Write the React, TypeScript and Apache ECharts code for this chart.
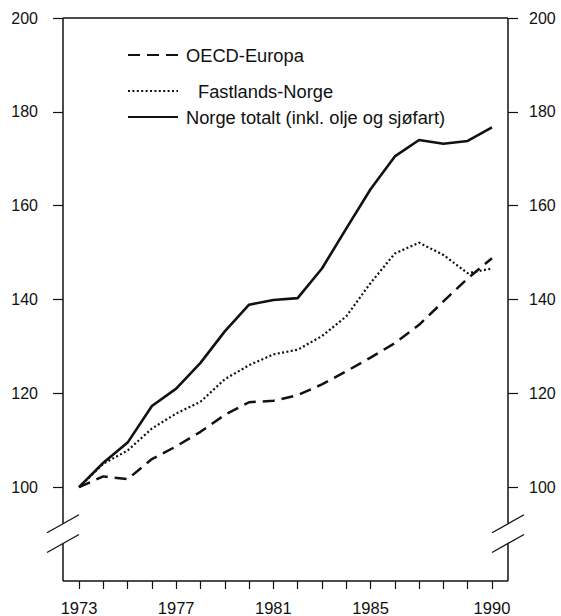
import { useEffect, useRef } from 'react';
import * as echarts from 'echarts';

const years = [1973, 1974, 1975, 1976, 1977, 1978, 1979, 1980, 1981, 1982, 1983, 1984, 1985, 1986, 1987, 1988, 1989, 1990];
const oecdEuropa = [100, 102.3, 101.7, 106, 108.7, 111.8, 115.4, 118.1, 118.4, 119.6, 121.9, 124.7, 127.6, 130.7, 134.6, 139.6, 144.5, 148.8];
const fastlandsNorge = [100, 105, 107.8, 112.5, 115.7, 118.2, 123, 126, 128.3, 129.3, 132.2, 136.4, 143.5, 149.8, 152.1, 149.5, 145.6, 146.6];
const norgeTotalt = [100, 105.2, 109.5, 117.3, 121, 126.5, 133.2, 138.9, 139.9, 140.3, 146.6, 155.1, 163.5, 170.5, 174, 173.2, 173.8, 176.7];
const yTickValues = [100, 120, 140, 160, 180, 200];
const xLabelYears = [1973, 1977, 1981, 1985, 1990];
const seriesNames = ['OECD-Europa', 'Fastlands-Norge', 'Norge totalt (inkl. olje og sjøfart)'];

const Y_MIN = 80;
const Y_MAX = 200;
const X_MIN = 1972.34;
const X_MAX = 1990.66;
const BREAK_UPPER = 92.2;
const BREAK_LOWER = 88.0;

const FONT = '"Liberation Sans", Arial, Helvetica, sans-serif';
const INK = '#111';

function pairs(vals: number[]) {
  return years.map((y, i) => [y, vals[i]]);
}

export default function App() {
  const ref = useRef<HTMLDivElement>(null);

  useEffect(() => {
    if (!ref.current) return;
    const chart = echarts.init(ref.current, null, { renderer: 'svg' });

    const legendText = { fontSize: 18.3, lineHeight: 18, color: INK, fontFamily: FONT };
    const legendBase = {
      left: 127,
      itemWidth: 50,
      itemHeight: 18,
      padding: 0,
      selectedMode: false,
      itemStyle: { opacity: 0, borderWidth: 0 },
    };

    const yAxisBase = {
      type: 'value',
      min: Y_MIN,
      max: Y_MAX,
      interval: 20,
      axisLine: { show: false },
      splitLine: { show: false },
      axisTick: { show: true, length: 10, customValues: yTickValues, lineStyle: { color: INK, width: 1.2 } },
    };

    chart.setOption({
      animation: false,
      backgroundColor: '#fff',
      textStyle: { fontFamily: FONT },
      grid: { left: 63, right: 53, top: 18, bottom: 34, containLabel: false },
      legend: [
        { ...legendBase, data: [seriesNames[0]], top: 46, textStyle: { ...legendText, padding: [0, 0, 0, 3] } },
        { ...legendBase, data: [seriesNames[1]], top: 82, textStyle: { ...legendText, padding: [0, 0, 0, 15] } },
        { ...legendBase, data: [seriesNames[2]], top: 108, textStyle: { ...legendText, padding: [0, 0, 0, 3] } },
      ],
      xAxis: {
        type: 'value',
        min: X_MIN,
        max: X_MAX,
        axisLine: { show: false },
        splitLine: { show: false },
        axisTick: { show: true, length: 8, customValues: years, lineStyle: { color: INK, width: 1.2 } },
        axisLabel: {
          customValues: xLabelYears,
          margin: 18,
          fontSize: 16.5,
          color: INK,
          fontFamily: FONT,
          formatter: (v: number) => String(v),
        },
      },
      yAxis: [
        {
          ...yAxisBase,
          position: 'left',
          axisLabel: { customValues: yTickValues, margin: 25, fontSize: 16, color: INK, fontFamily: FONT },
        },
        {
          ...yAxisBase,
          position: 'right',
          axisLabel: { customValues: yTickValues, margin: 21, fontSize: 16, color: INK, fontFamily: FONT },
        },
      ],
      series: [
        {
          name: seriesNames[0],
          type: 'line',
          data: pairs(oecdEuropa),
          symbol: 'none',
          lineStyle: { color: INK, width: 2.5, type: [12, 7] },
          itemStyle: { color: INK },
        },
        {
          name: seriesNames[1],
          type: 'line',
          data: pairs(fastlandsNorge),
          symbol: 'none',
          lineStyle: { color: INK, width: 2.2, type: [2, 2.4] },
          itemStyle: { color: INK },
        },
        {
          name: seriesNames[2],
          type: 'line',
          data: pairs(norgeTotalt),
          symbol: 'none',
          lineStyle: { color: INK, width: 2.6 },
          itemStyle: { color: INK },
        },
      ],
    });

    const p = (x: number, y: number) => chart.convertToPixel({ xAxisIndex: 0, yAxisIndex: 0 }, [x, y]) as number[];
    const frameStyle = { stroke: INK, lineWidth: 1.5 };
    const slashStyle = { stroke: INK, lineWidth: 1.3 };
    const seg = (a: number[], b: number[], style = frameStyle) => ({
      type: 'line',
      shape: { x1: a[0], y1: a[1], x2: b[0], y2: b[1] },
      style,
      silent: true,
    });
    const slash = (c: number[]) => seg([c[0] - 16, c[1] + 9], [c[0] + 16, c[1] - 9], slashStyle);

    const elements: any[] = [
      seg(p(X_MIN, Y_MAX), p(X_MAX, Y_MAX)),
      seg(p(X_MIN, Y_MIN), p(X_MAX, Y_MIN)),
    ];
    [X_MIN, X_MAX].forEach((xv) => {
      elements.push(seg(p(xv, Y_MAX), p(xv, BREAK_UPPER)));
      elements.push(seg(p(xv, BREAK_LOWER), p(xv, Y_MIN)));
      elements.push(slash(p(xv, BREAK_UPPER)));
      elements.push(slash(p(xv, BREAK_LOWER)));
    });
    chart.setOption({ graphic: elements });

    return () => chart.dispose();
  }, []);

  return (
    <div
      ref={ref}
      style={{ position: 'absolute', left: 0, top: 0, width: 561, height: 616, background: '#fff' }}
    />
  );
}
